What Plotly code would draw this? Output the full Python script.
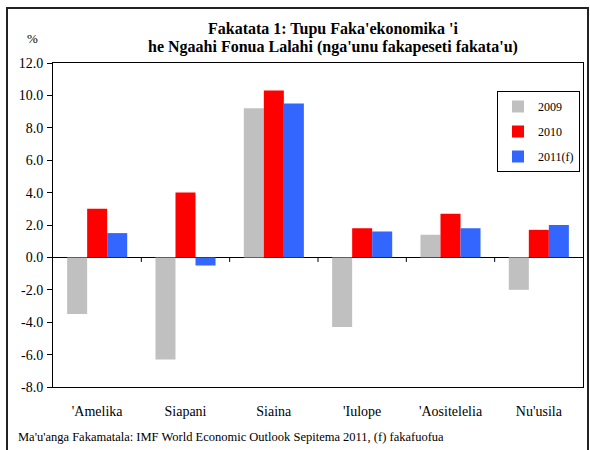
import plotly.graph_objects as go

# data
countries = ["'Amelika", "Siapani", "Siaina", "'Iulope", "'Aositelelia", "Nu'usila"]
growth_2009 = [-3.5, -6.3, 9.2, -4.3, 1.4, -2.0]
growth_2010 = [3.0, 4.0, 10.3, 1.8, 2.7, 1.7]
growth_2011f = [1.5, -0.5, 9.5, 1.6, 1.8, 2.0]
series_names = ["2009", "2010", "2011(f)"]
y_ticks = [-8, -6, -4, -2, 0, 2, 4, 6, 8, 10, 12]
y_ticktext = [f"{v:.1f}" for v in y_ticks]

serif = "Liberation Serif, Times New Roman, serif"
colors = ['#C0C0C0', '#FF0000', '#3366FF']

fig = go.Figure()
for name, vals, col in zip(series_names, [growth_2009, growth_2010, growth_2011f], colors):
    fig.add_trace(go.Bar(
        name=name, x=countries, y=vals,
        marker=dict(color=col, line=dict(width=0)),
        legendgroup=name,
    ))

# plot area in pixels: left 53, right 583, top 63, bottom 387
L, R, T, B = 53, 7, 63, 63
W, H = 590, 450
pw, ph = W - L - R, H - T - B

def px_x(p):
    return (p - L) / pw

def px_y(p):
    return (H - B - p) / ph

fig.update_layout(
    width=W, height=H,
    margin=dict(l=L, r=R, t=T, b=B, pad=0),
    paper_bgcolor='white',
    plot_bgcolor='white',
    barmode='group',
    bargap=0.32,
    bargroupgap=0,
    font=dict(family=serif, size=12, color='black'),
    showlegend=True,
    legend=dict(
        x=px_x(497), y=px_y(91), xanchor='left', yanchor='top',
        bordercolor='black', borderwidth=1,
        font=dict(family=serif, size=12, color='black'),
        tracegroupgap=6,
        itemwidth=30,
    ),
)

fig.update_xaxes(
    showline=True, linecolor='black', linewidth=1, mirror=True,
    ticks='', showgrid=False,
    tickfont=dict(family=serif, size=14, color='black'),
    ticklabelstandoff=11,
)
fig.update_yaxes(
    range=[-8, 12], tickvals=y_ticks, ticktext=y_ticktext,
    showline=True, linecolor='black', linewidth=1, mirror=True,
    ticks='outside', ticklen=5, tickcolor='black',
    showgrid=False,
    zeroline=True, zerolinecolor='black', zerolinewidth=1,
    tickfont=dict(family=serif, size=14, color='black'),
    ticklabelstandoff=1,
)

# tick marks on zero line between categories
for i in range(1, len(countries)):
    fig.add_shape(type='line', xref='x', yref='y',
                  x0=i - 0.5, x1=i - 0.5, y0=0, y1=-0.28,
                  line=dict(color='black', width=1))

# outer frame
fig.add_shape(type='rect', xref='paper', yref='paper',
              x0=px_x(7), x1=px_x(588), y0=px_y(455), y1=px_y(8),
              line=dict(color='#222222', width=2), layer='below')

fig.add_annotation(text="<b>Fakatata 1: Tupu Faka'ekonomika 'i</b>",
                   xref='paper', yref='paper', x=px_x(333), y=px_y(29),
                   showarrow=False, font=dict(family=serif, size=16),
                   xanchor='center', yanchor='middle')
fig.add_annotation(text="<b>he Ngaahi Fonua Lalahi (nga'unu fakapeseti fakata'u)</b>",
                   xref='paper', yref='paper', x=px_x(333), y=px_y(47),
                   showarrow=False, font=dict(family=serif, size=16),
                   xanchor='center', yanchor='middle')
fig.add_annotation(text="%", xref='paper', yref='paper', x=px_x(32), y=px_y(38),
                   showarrow=False, font=dict(family=serif, size=13),
                   xanchor='center', yanchor='middle')
fig.add_annotation(text="Ma'u'anga Fakamatala: IMF World Economic Outlook Sepitema 2011, (f) fakafuofua",
                   xref='paper', yref='paper', x=px_x(16), y=px_y(437),
                   showarrow=False, font=dict(family=serif, size=12.5),
                   xanchor='left', yanchor='middle')

# page body has a default margin; remove it so pixel positions line up
fig.write_html("out.html", config={'displayModeBar': False},
               post_script="document.body.style.margin='0';")
